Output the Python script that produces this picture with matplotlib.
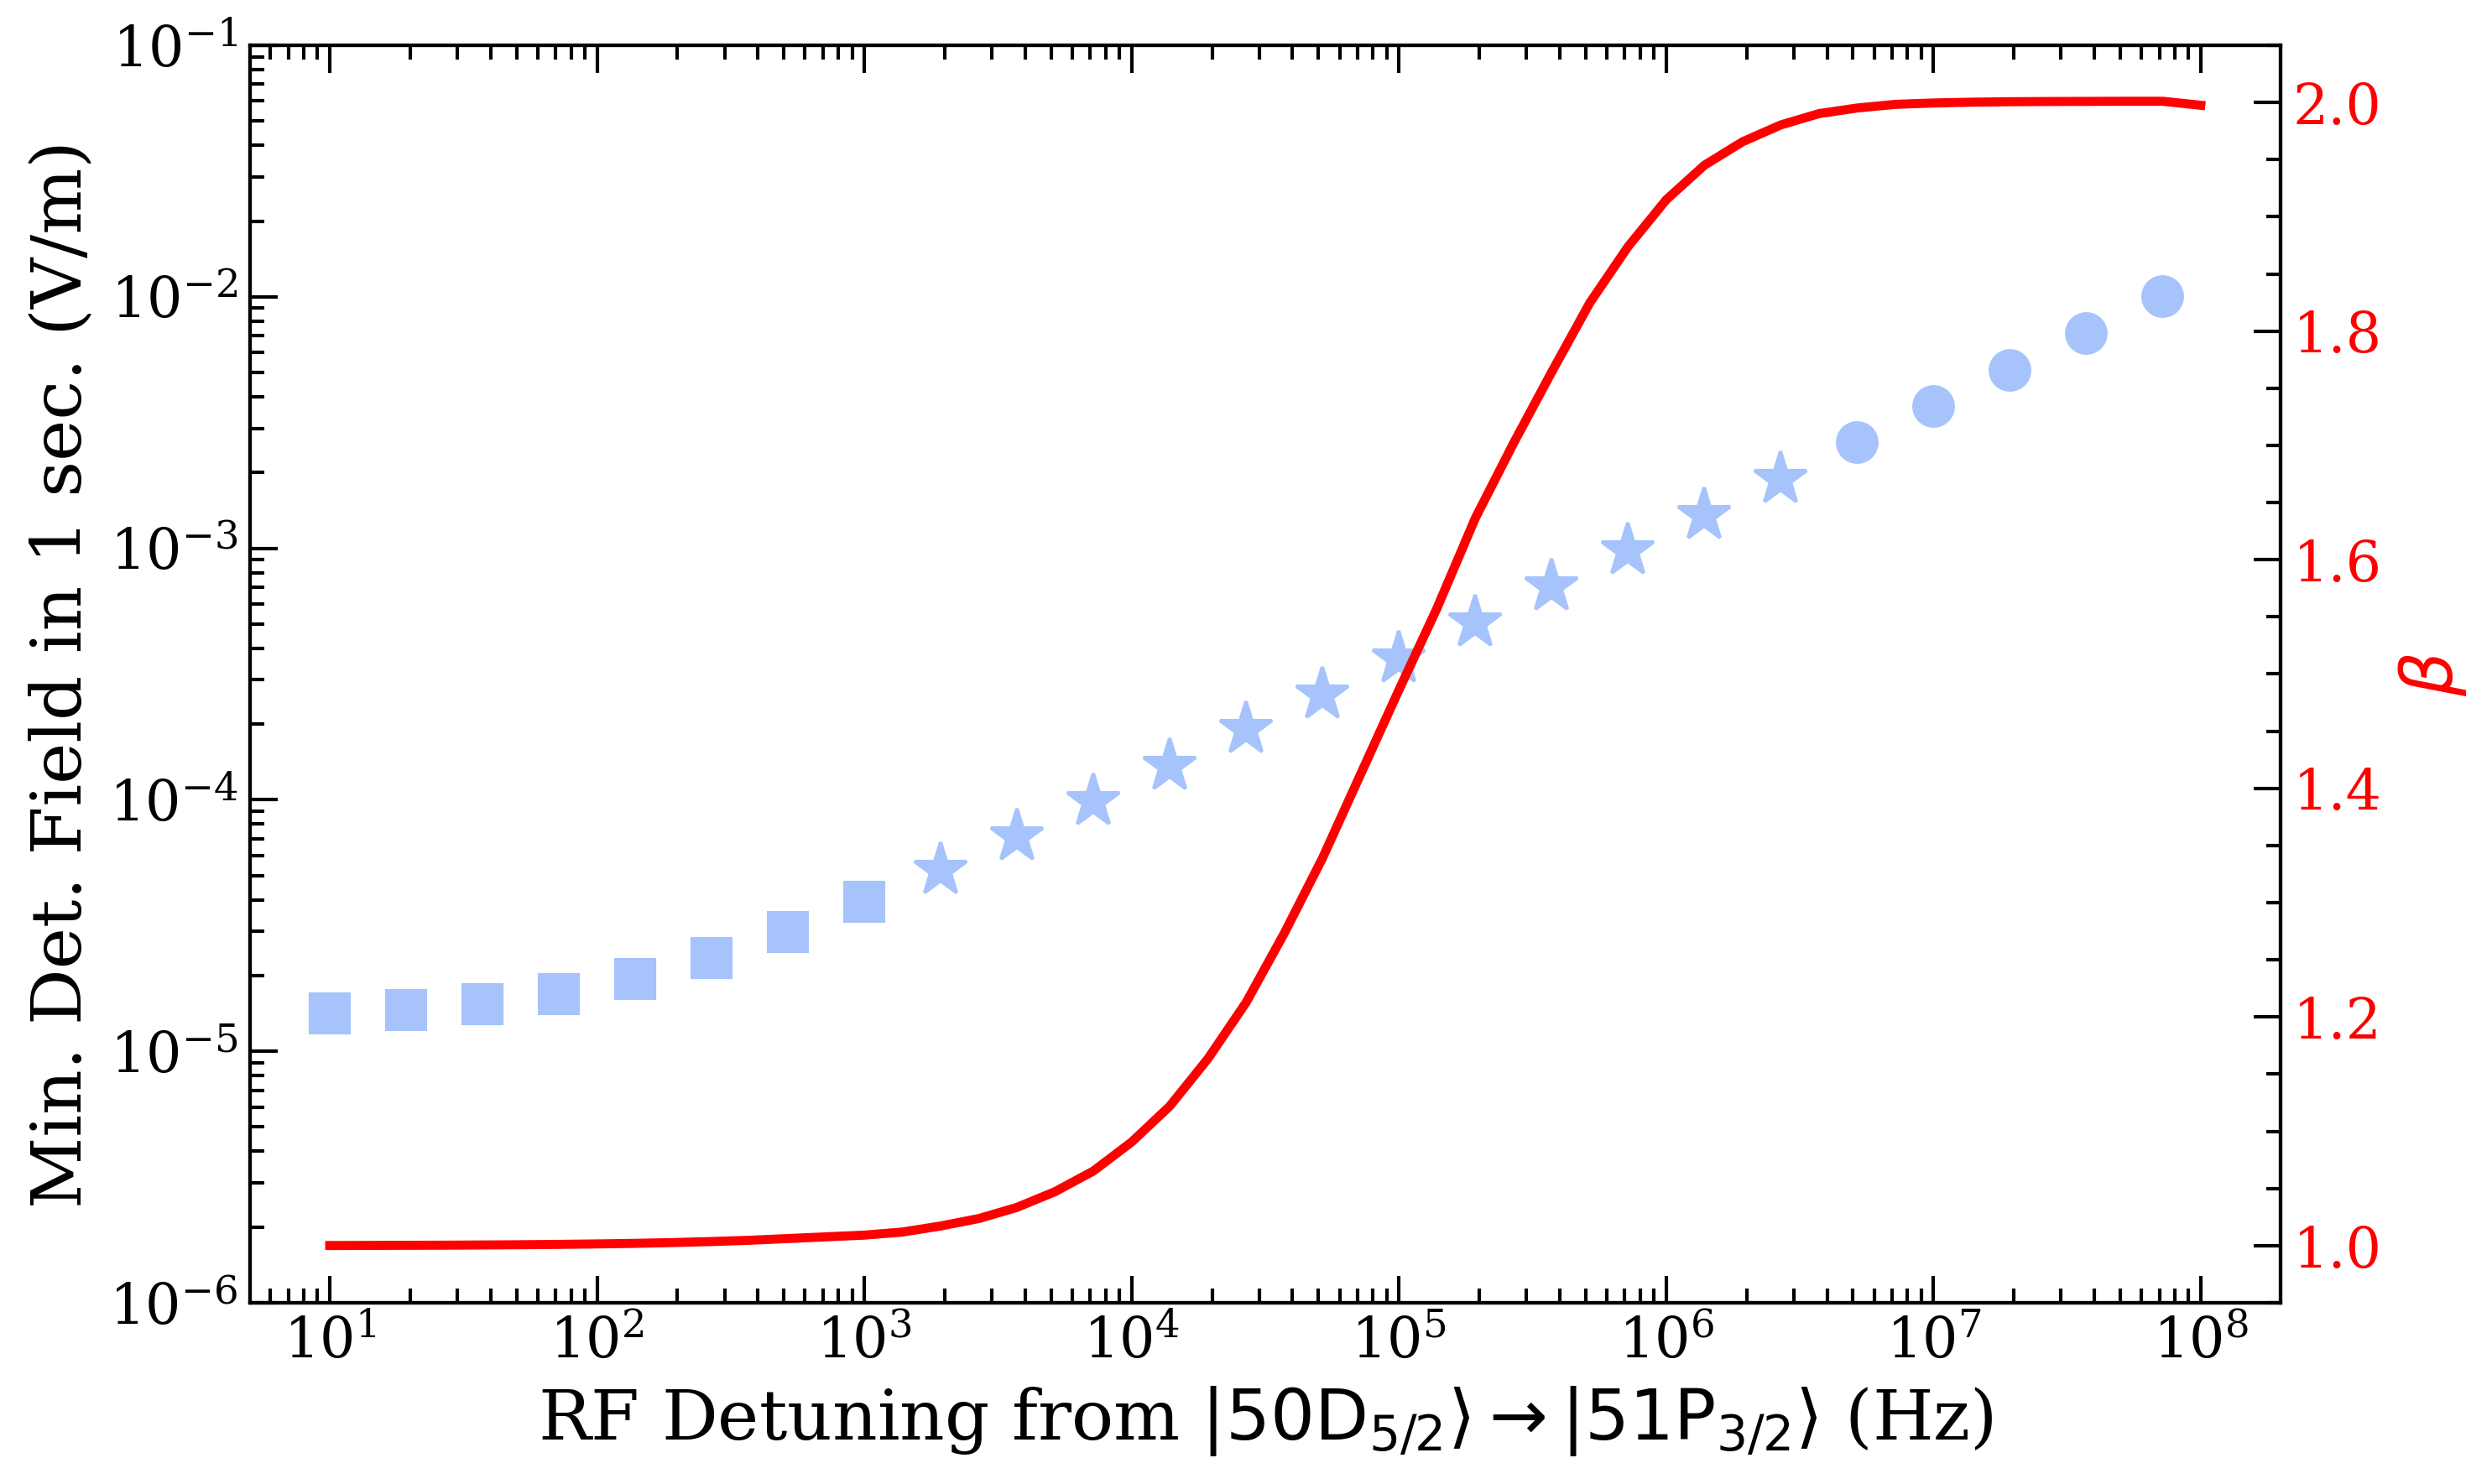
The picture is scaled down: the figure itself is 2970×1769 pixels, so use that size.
import matplotlib
matplotlib.use("Agg")
import matplotlib.pyplot as plt
from matplotlib.ticker import LogLocator, NullFormatter, MultipleLocator
import numpy as np

# ---- data -------------------------------------------------------------
detuning = [
    1.000e1, 1.389e1, 1.931e1, 2.683e1, 3.728e1, 5.179e1, 7.197e1,
    1.000e2, 1.389e2, 1.931e2, 2.683e2, 3.728e2, 5.179e2, 7.197e2,
    1.000e3, 1.389e3, 1.931e3, 2.683e3, 3.728e3, 5.179e3, 7.197e3,
    1.000e4, 1.389e4, 1.931e4, 2.683e4, 3.728e4, 5.179e4, 7.197e4,
    1.000e5, 1.389e5, 1.931e5, 2.683e5, 3.728e5, 5.179e5, 7.197e5,
    1.000e6, 1.389e6, 1.931e6, 2.683e6, 3.728e6, 5.179e6, 7.197e6,
    1.000e7, 1.389e7, 1.931e7, 2.683e7, 3.728e7, 5.179e7, 7.197e7,
    1.000e8,
]
beta = [
    1.0001, 1.0002, 1.0003, 1.0004, 1.0006, 1.0008, 1.0011,
    1.0015, 1.0020, 1.0027, 1.0036, 1.0047, 1.0062, 1.0077,
    1.0092, 1.0119, 1.0172, 1.0237, 1.0335, 1.0473, 1.0653,
    1.0906, 1.1220, 1.1636, 1.2128, 1.2734, 1.3390, 1.4126,
    1.4860, 1.5577, 1.6363, 1.7018, 1.7641, 1.8247, 1.8738,
    1.9148, 1.9450, 1.9656, 1.9803, 1.9902, 1.9951, 1.9983,
    1.9995, 2.0002, 2.0006, 2.0008, 2.0009, 2.0010, 2.0010,
    1.9975,
]

square_x = [1.000e1, 1.931e1, 3.728e1, 7.197e1, 1.389e2, 2.683e2, 5.179e2, 1.000e3]
square_y = [1.413e-5, 1.461e-5, 1.543e-5, 1.688e-5, 1.945e-5, 2.356e-5, 2.98e-5, 3.94e-5]

star_x = [1.931e3, 3.728e3, 7.197e3, 1.389e4, 2.683e4, 5.179e4,
          1.000e5, 1.931e5, 3.728e5, 7.197e5, 1.389e6, 2.683e6]
star_y = [5.28e-5, 7.16e-5, 9.90e-5, 1.364e-4, 1.905e-4, 2.62e-4,
          3.64e-4, 5.07e-4, 7.03e-4, 9.79e-4, 1.357e-3, 1.886e-3]

circle_x = [5.179e6, 1.000e7, 1.931e7, 3.728e7, 7.197e7]
circle_y = [2.64e-3, 3.68e-3, 5.13e-3, 7.18e-3, 1.006e-2]

marker_color = "#a6c4fb"

# ---- style ------------------------------------------------------------
plt.rcParams["font.family"] = ["DejaVu Serif"]
plt.rcParams["font.size"] = 16

fig = plt.figure(figsize=(9.9, 5.8967), dpi=300)
ax = fig.add_axes([0.1003, 0.1221, 0.9152 - 0.1003, 0.9695 - 0.1221])
ax2 = ax.twinx()

ax.set_xscale("log")
ax.set_yscale("log")

ax.plot(square_x, square_y, linestyle="none", marker="s", ms=11.2,
        color=marker_color, mec=marker_color, mew=1)
ax.plot(star_x, star_y, linestyle="none", marker="*", ms=15.8,
        color=marker_color, mec=marker_color, mew=1)
ax.plot(circle_x, circle_y, linestyle="none", marker="o", ms=11.2,
        color=marker_color, mec=marker_color, mew=1)

ax2.plot(detuning, beta, color="red", lw=2.6)

ax.set_xlim(5.03, 1.99e8)
ax.set_ylim(1e-6, 1e-1)
ax2.set_ylim(0.95, 2.05)

ax.xaxis.set_major_locator(LogLocator(base=10, numticks=100))
ax.xaxis.set_minor_locator(LogLocator(base=10, subs=np.arange(2, 10), numticks=100))
ax.xaxis.set_minor_formatter(NullFormatter())
ax.yaxis.set_major_locator(LogLocator(base=10, numticks=100))
ax.yaxis.set_minor_locator(LogLocator(base=10, subs=np.arange(2, 10), numticks=100))
ax.yaxis.set_minor_formatter(NullFormatter())

ax2.yaxis.set_major_locator(MultipleLocator(0.2))
ax2.yaxis.set_minor_locator(MultipleLocator(0.05))

ax.tick_params(which="both", direction="in", top=True, right=False, width=1.0)
ax.tick_params(which="major", length=7.8, labelsize=16)
ax.tick_params(which="minor", length=4.0)
ax2.tick_params(which="both", direction="in", width=1.0, labelcolor="red")
ax2.tick_params(which="major", length=7.8, labelsize=16)
ax2.tick_params(which="minor", length=4.0)

for a in (ax, ax2):
    for s in a.spines.values():
        s.set_linewidth(1.0)

ax.set_xlabel(r"RF Detuning from $|50\mathrm{D}_{5/2}\rangle \rightarrow |51\mathrm{P}_{3/2}\rangle$ (Hz)",
              fontsize=20)
ax.set_ylabel("Min. Det. Field in 1 sec. (V/m)", fontsize=20)
ax2.set_ylabel(r"$\beta$", fontsize=20, color="red")

fig.savefig("out.png", dpi=300)
